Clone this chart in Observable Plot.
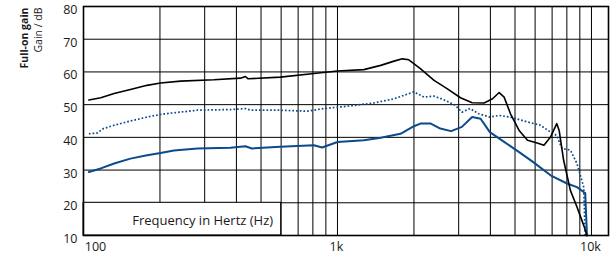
<!DOCTYPE html>
<html><head><meta charset="utf-8">
<script src="https://cdn.jsdelivr.net/npm/d3@7"></script>
<script src="https://cdn.jsdelivr.net/npm/@observablehq/plot@0.6"></script>
<style>
html,body{margin:0;padding:0;background:#fff;}
#chart svg{display:block;}
</style>
</head><body><div id="chart"></div>
<script>
// Full-on gain curves (frequency in Hz, gain in dB)
const freqBlack = [105,117,132,153,178,201,241,326,415,434,445,596,808,1000,1270,1480,1670,1800,1910,2120,2400,2700,3050,3390,3780,4080,4330,4530,4800,5190,5600,6110,6500,6900,7300,7460,7770,8260,8770,9320,9600];
const gainBlack = [51.4,52.1,53.4,54.6,55.9,56.6,57.2,57.6,58.1,58.6,57.9,58.4,59.5,60.3,60.7,62.0,63.3,64.0,63.7,61.0,57.4,54.9,52.1,50.6,50.5,51.8,53.7,52.3,47.2,42.1,39.1,38.3,37.6,40.1,44.2,42.1,33.0,23.8,18.7,13.1,10];

const freqDotted = [105,113,120,132,153,178,201,227,281,379,434,455,596,760,884,1090,1390,1670,2000,2190,2400,2620,2910,3090,3330,3600,3980,4330,4800,5600,6300,6900,7300,7650,8260,8770,9320,9450];
const gainDotted = [41.1,41.3,42.7,43.7,45.0,46.2,47.0,47.5,48.3,48.5,48.8,48.3,48.3,48.0,48.8,49.5,50.5,51.8,53.9,52.3,52.6,51.5,49.8,47.7,48.8,47.2,46.2,46.7,46.2,44.7,43.7,41.6,40.6,36.6,36.1,32.0,24.8,10];

const freqBlue = [105,117,132,153,178,201,227,281,379,434,460,596,808,870,1000,1270,1480,1770,2000,2120,2330,2540,2800,3090,3390,3660,3980,4530,5190,5880,6900,8010,8770,9320,9450,9600];
const gainBlue = [29.4,30.5,32.0,33.5,34.5,35.2,36.0,36.6,36.8,37.3,36.6,37.1,37.6,36.9,38.6,39.1,39.9,41.1,43.4,44.2,44.2,42.7,41.9,43.2,46.2,45.7,41.6,38.6,35.5,32.5,28.4,25.9,24.8,23.3,23.0,10];

const yTicks = [10,20,30,40,50,60,70,80];
const xGrid = [100,200,300,400,500,600,700,800,900,1000,2000,3000,4000,5000,6000,7000,8000,9000,10000];
const xTickValues = [100,1000,10000];
const xTickText = ["100","1k","10k"];
const titleBold = "Full-on gain";
const titleUnit = "Gain / dB";
const xTitle = "Frequency in Hertz (Hz)";
const xTitleBox = [{x1:100, x2:600, y1:10, y2:20}];

const toRows = (fs, gs) => fs.map((f, i) => ({f, g: gs[i]}));
const blue = "#0b4a8b";
const ink = "#1a1a1a";

const chart = Plot.plot({
  width: 613, height: 256,
  marginLeft: 83, marginRight: 5, marginTop: 6, marginBottom: 21,
  x: {type: "log", domain: [100, 11670], axis: null},
  y: {domain: [10, 80], axis: null},
  style: {fontFamily: "'Open Sans', sans-serif", background: "#fff", color: ink},
  marks: [
    Plot.ruleX(xGrid, {stroke: "#000", strokeWidth: 1}),
    Plot.ruleY(yTicks, {stroke: "#000", strokeWidth: 1}),
    Plot.rect(xTitleBox, {x1: "x1", x2: "x2", y1: "y1", y2: "y2", fill: "#fff", stroke: "#000", strokeWidth: 1}),
    Plot.text([xTitle], {x: 600, y: 15, dx: -8, dy: 2, textAnchor: "end", fontSize: 13, fill: ink}),
    Plot.line(toRows(freqBlue, gainBlue), {x: "f", y: "g", stroke: blue, strokeWidth: 2}),
    Plot.line(toRows(freqDotted, gainDotted), {x: "f", y: "g", stroke: blue, strokeWidth: 1.7, strokeDasharray: "1.7,2", strokeLinecap: "butt"}),
    Plot.line(toRows(freqBlack, gainBlack), {x: "f", y: "g", stroke: "#000", strokeWidth: 1.6}),
    Plot.frame({stroke: "#000", strokeWidth: 1.6}),
    Plot.text(yTicks, {frameAnchor: "left", y: d => d, text: d => String(d), textAnchor: "end", dx: -6, dy: 3.5, fontSize: 12.5, fill: ink}),
    Plot.text(xTickValues.slice(0, 1), {x: d => d, frameAnchor: "bottom", text: (d, i) => xTickText[i], textAnchor: "middle", dx: 12, dy: 15, fontSize: 12.5, fill: ink}),
    Plot.text(xTickValues.slice(1), {x: d => d, frameAnchor: "bottom", text: (d, i) => xTickText[i + 1], textAnchor: "middle", dx: -1, dy: 15, fontSize: 12.5, fill: ink}),
    Plot.text([titleBold], {frameAnchor: "top-left", rotate: -90, textAnchor: "end", dx: -63, dy: 1, fontWeight: "bold", fontSize: 10.5, fill: ink}),
    Plot.text([titleUnit], {frameAnchor: "top-left", rotate: -90, textAnchor: "end", dx: -49, dy: 1, fontSize: 10.5, fill: ink})
  ]
});
document.getElementById("chart").appendChild(chart);
</script>
</body></html>
